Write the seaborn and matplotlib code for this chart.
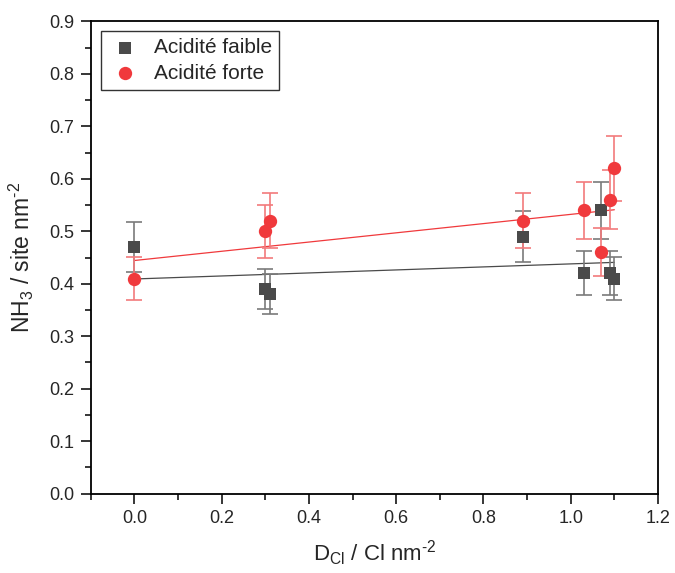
import matplotlib
matplotlib.use("Agg")
import matplotlib.pyplot as plt
import seaborn as sns
import numpy as np
from matplotlib.ticker import MultipleLocator

# D_Cl (Cl nm-2) for each sample
d_cl = [0.0, 0.30, 0.31, 0.89, 1.03, 1.07, 1.09, 1.10]
# NH3 site densities
faible = [0.47, 0.39, 0.38, 0.49, 0.42, 0.54, 0.42, 0.41]
forte = [0.41, 0.50, 0.52, 0.52, 0.54, 0.46, 0.56, 0.62]
# error bars (about 10 %)
err_faible = [0.047, 0.039, 0.038, 0.049, 0.042, 0.054, 0.042, 0.041]
err_forte = [0.041, 0.050, 0.052, 0.052, 0.054, 0.046, 0.056, 0.062]

labels = ["Acidité faible", "Acidité forte"]
col_faible = "#4a4a4a"
col_forte = "#f0393c"

sns.set_style("ticks")
plt.rcParams['font.family'] = ['Liberation Sans', 'DejaVu Sans']
plt.rcParams['mathtext.fontset'] = 'custom'
plt.rcParams['mathtext.rm'] = 'Liberation Sans'

fig = plt.figure(figsize=(6.75, 5.73), dpi=100)
ax = fig.add_axes([0.1344, 0.1384, 0.9748 - 0.1344, 0.9628 - 0.1384])

# weighted linear fits
x_fit = np.array([min(d_cl), max(d_cl)])
for ys, es, c in [(faible, err_faible, col_faible), (forte, err_forte, col_forte)]:
    p = np.polyfit(d_cl, ys, 1, w=1 / np.array(es))
    sns.lineplot(x=x_fit, y=np.polyval(p, x_fit), color=c, lw=0.9, ax=ax, zorder=1)

ax.errorbar(d_cl, faible, yerr=err_faible, fmt="none", ecolor="#7a7a7a",
            elinewidth=1.2, capsize=6, capthick=1.2, zorder=2)
ax.errorbar(d_cl, forte, yerr=err_forte, fmt="none", ecolor="#f27a7c",
            elinewidth=1.2, capsize=6, capthick=1.2, zorder=2)

sns.scatterplot(x=d_cl, y=faible, marker="s", s=72, color=col_faible,
                linewidth=0, label=labels[0], ax=ax, zorder=3)
sns.scatterplot(x=d_cl, y=forte, marker="o", s=92, color=col_forte,
                linewidth=0, label=labels[1], ax=ax, zorder=3)

ax.set_xlim(-0.1, 1.2)
ax.set_ylim(0, 0.9)
ax.xaxis.set_major_locator(MultipleLocator(0.2))
ax.xaxis.set_minor_locator(MultipleLocator(0.1))
ax.yaxis.set_major_locator(MultipleLocator(0.1))
ax.yaxis.set_minor_locator(MultipleLocator(0.05))
ax.tick_params(which="major", direction="out", length=7, width=1.1,
               labelsize=13, pad=5, color="black")
ax.tick_params(which="minor", direction="out", length=4, width=1.1, color="black")
for s in ax.spines.values():
    s.set_visible(True)
    s.set_linewidth(1.3)
    s.set_color("black")

ax.set_xlabel(r"D$_{\mathregular{Cl}}$ / Cl nm$^{\mathregular{\text{-}2}}$", fontsize=16, labelpad=8)
ax.set_ylabel(r"NH$_{\mathregular{3}}$ / site nm$^{\mathregular{\text{-}2}}$", fontsize=16.5, labelpad=9)

leg = ax.legend(loc="upper left", bbox_to_anchor=(0.0176, 0.9795), borderaxespad=0,
                frameon=True, fancybox=False, edgecolor="black", fontsize=15,
                handletextpad=0.6, borderpad=0.35, labelspacing=0.3,
                handlelength=1.6)
leg.get_frame().set_linewidth(1.0)

fig.savefig("out.png", dpi=100)
